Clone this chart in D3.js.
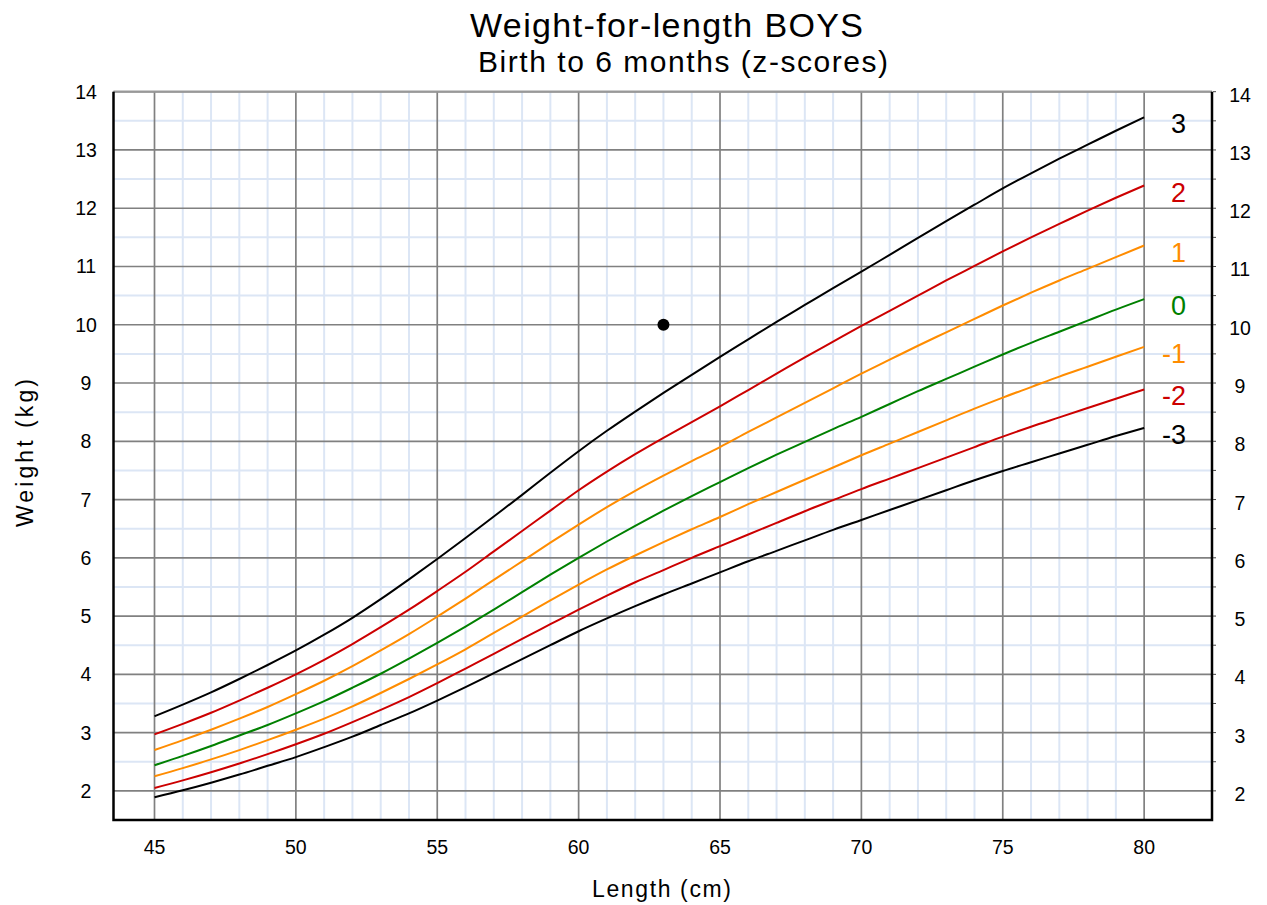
<!DOCTYPE html>
<html>
<head>
<meta charset="utf-8">
<script src="https://cdn.jsdelivr.net/npm/d3@7"></script>
<style>
  body { margin: 0; background: #fff; }
  text { font-family: "Liberation Sans", Arial, sans-serif; }
</style>
</head>
<body>
<svg id="chart" width="1267" height="905"></svg>
<script>
// length (cm)
var lengths = [45,46,47,48,49,50,51,52,53,54,55,56,57,58,59,60,61,62,63,64,65,66,67,68,69,70,71,72,73,74,75,76,77,78,79,80];

// weight (kg) per z-score line
var zPlus3  = [3.28,3.48,3.69,3.92,4.16,4.41,4.68,4.97,5.29,5.63,5.98,6.34,6.71,7.08,7.46,7.83,8.18,8.51,8.83,9.14,9.45,9.75,10.05,10.34,10.63,10.91,11.20,11.49,11.78,12.06,12.34,12.60,12.85,13.09,13.33,13.56];
var zPlus2  = [2.97,3.15,3.34,3.55,3.77,4.00,4.25,4.52,4.81,5.11,5.43,5.76,6.11,6.46,6.81,7.16,7.48,7.78,8.06,8.33,8.60,8.88,9.16,9.44,9.71,9.98,10.24,10.50,10.76,11.01,11.26,11.50,11.73,11.96,12.18,12.39];
var zPlus1  = [2.70,2.87,3.05,3.24,3.44,3.66,3.89,4.14,4.41,4.69,4.99,5.30,5.62,5.94,6.26,6.57,6.87,7.15,7.41,7.66,7.90,8.16,8.41,8.66,8.91,9.16,9.40,9.64,9.87,10.10,10.33,10.55,10.76,10.96,11.16,11.36];
var zMedian = [2.44,2.60,2.77,2.95,3.13,3.33,3.54,3.77,4.01,4.27,4.54,4.82,5.11,5.41,5.71,6.00,6.28,6.55,6.81,7.06,7.30,7.54,7.77,7.99,8.21,8.42,8.64,8.86,9.07,9.28,9.49,9.69,9.88,10.07,10.26,10.44];
var zMinus1 = [2.25,2.39,2.54,2.70,2.87,3.05,3.24,3.45,3.68,3.92,4.17,4.43,4.71,4.99,5.27,5.54,5.80,6.04,6.27,6.49,6.70,6.92,7.13,7.34,7.55,7.76,7.96,8.16,8.36,8.56,8.75,8.93,9.11,9.28,9.45,9.62];
var zMinus2 = [2.05,2.18,2.32,2.47,2.63,2.80,2.98,3.18,3.39,3.61,3.85,4.10,4.35,4.61,4.86,5.11,5.35,5.58,5.79,6.00,6.20,6.40,6.60,6.80,6.99,7.18,7.36,7.54,7.72,7.90,8.08,8.25,8.41,8.57,8.73,8.89];
var zMinus3 = [1.89,2.01,2.14,2.28,2.43,2.58,2.75,2.93,3.13,3.33,3.55,3.78,4.02,4.26,4.50,4.74,4.96,5.17,5.37,5.56,5.75,5.94,6.12,6.30,6.48,6.65,6.82,6.99,7.16,7.33,7.49,7.64,7.79,7.94,8.09,8.23];

var zLabels = ["3","2","1","0","-1","-2","-3"];
var zColors = ["#000000","#cc0000","#ff8c00","#008000","#ff8c00","#cc0000","#000000"];
var zSeries = [zPlus3, zPlus2, zPlus1, zMedian, zMinus1, zMinus2, zMinus3];

// the plotted child
var pointLength = [63];
var pointWeight = [10];

var xTicks = [45,50,55,60,65,70,75,80];
var yTicks = [2,3,4,5,6,7,8,9,10,11,12,13,14];

var svg = d3.select("#chart");
var plotL = 113.5, plotR = 1212, plotT = 91.7, plotB = 820;

var x = d3.scaleLinear().domain([43.55, 82.4]).range([plotL, plotR]);
var y = d3.scaleLinear().domain([1.5, 14]).range([plotB, plotT]);

// minor grid (light blue)
var minorX = d3.range(45, 80.5, 1).filter(function(d){ return d % 5 !== 0; });
var minorY = d3.range(1.5, 14, 0.5).filter(function(d){ return d % 1 !== 0; });

svg.append("g").selectAll("line").data(minorX).enter().append("line")
    .attr("x1", function(d){ return x(d); }).attr("x2", function(d){ return x(d); })
    .attr("y1", plotT).attr("y2", plotB)
    .attr("stroke", "#dce6f5").attr("stroke-width", 2);
svg.append("g").selectAll("line").data(minorY).enter().append("line")
    .attr("x1", plotL).attr("x2", plotR)
    .attr("y1", function(d){ return y(d); }).attr("y2", function(d){ return y(d); })
    .attr("stroke", "#dce6f5").attr("stroke-width", 2);

// major grid (gray)
svg.append("g").selectAll("line").data(xTicks).enter().append("line")
    .attr("x1", function(d){ return x(d); }).attr("x2", function(d){ return x(d); })
    .attr("y1", plotT).attr("y2", plotB)
    .attr("stroke", "#808080").attr("stroke-width", 1.7);
svg.append("g").selectAll("line").data(yTicks).enter().append("line")
    .attr("x1", plotL).attr("x2", plotR)
    .attr("y1", function(d){ return y(d); }).attr("y2", function(d){ return y(d); })
    .attr("stroke", "#808080").attr("stroke-width", 1.7);

// curves
var line = d3.line()
    .x(function(d){ return x(d[0]); })
    .y(function(d){ return y(d[1]); })
    .curve(d3.curveMonotoneX);

zSeries.forEach(function(s, i){
    svg.append("path")
        .datum(lengths.map(function(l, j){ return [l, s[j]]; }))
        .attr("fill", "none")
        .attr("stroke", zColors[i])
        .attr("stroke-width", 2)
        .attr("d", line);
    svg.append("text")
        .attr("x", x(80) + 42)
        .attr("y", y(s[s.length - 1]) + 16)
        .attr("text-anchor", "end")
        .attr("font-size", 27)
        .attr("fill", zColors[i])
        .text(zLabels[i]);
});

// point
svg.append("g").selectAll("circle").data(pointLength).enter().append("circle")
    .attr("cx", function(d){ return x(d); })
    .attr("cy", function(d, i){ return y(pointWeight[i]); })
    .attr("r", 6)
    .attr("fill", "#000");

// frame
svg.append("line").attr("x1", plotL).attr("x2", plotR).attr("y1", plotT).attr("y2", plotT)
    .attr("stroke", "#999").attr("stroke-width", 2);
svg.append("path")
    .attr("d", "M" + plotL + "," + plotT + "V" + plotB + "H" + plotR + "V" + plotT)
    .attr("fill", "none").attr("stroke", "#000").attr("stroke-width", 2.5);

// small ticks on the right
svg.append("g").selectAll("line").data(d3.range(2, 14.01, 0.5)).enter().append("line")
    .attr("x1", plotR + 1).attr("x2", plotR + 4)
    .attr("y1", function(d){ return y(d); }).attr("y2", function(d){ return y(d); })
    .attr("stroke", "#444").attr("stroke-width", 1);

// tick labels
svg.append("g").selectAll("text").data(xTicks).enter().append("text")
    .attr("x", function(d){ return x(d); })
    .attr("y", 854)
    .attr("text-anchor", "middle")
    .attr("font-size", 19.5)
    .text(function(d){ return d; });
svg.append("g").selectAll("text").data(yTicks).enter().append("text")
    .attr("x", 86)
    .attr("y", function(d){ return y(d) + 7; })
    .attr("text-anchor", "middle")
    .attr("font-size", 19.5)
    .text(function(d){ return d; });
svg.append("g").selectAll("text").data(yTicks).enter().append("text")
    .attr("x", 1240)
    .attr("y", function(d){ return y(d) + 10; })
    .attr("text-anchor", "middle")
    .attr("font-size", 19.5)
    .text(function(d){ return d; });

// titles
svg.append("text")
    .attr("x", 470).attr("y", 37)
    .attr("font-size", 34)
    .attr("textLength", 393).attr("lengthAdjust", "spacing")
    .text("Weight-for-length BOYS");
svg.append("text")
    .attr("x", 478).attr("y", 72)
    .attr("font-size", 30)
    .attr("textLength", 410).attr("lengthAdjust", "spacing")
    .text("Birth to 6 months (z-scores)");

// axis labels
svg.append("text")
    .attr("x", 592).attr("y", 897)
    .attr("font-size", 23)
    .attr("textLength", 139).attr("lengthAdjust", "spacing")
    .text("Length (cm)");
svg.append("text")
    .attr("transform", "translate(33,527) rotate(-90)")
    .attr("font-size", 23)
    .attr("textLength", 148).attr("lengthAdjust", "spacing")
    .text("Weight  (kg)");
</script>
</body>
</html>
